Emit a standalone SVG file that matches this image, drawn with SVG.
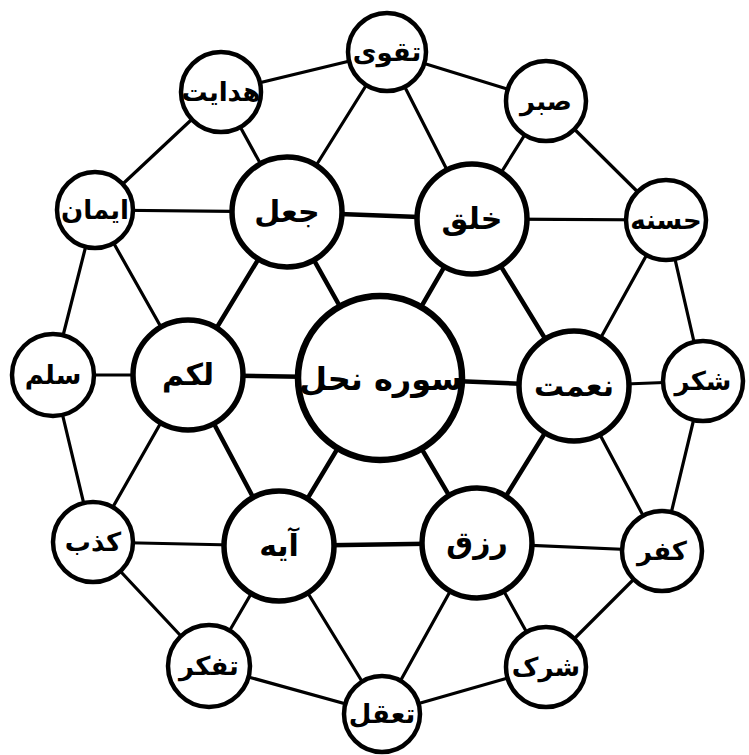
<svg xmlns="http://www.w3.org/2000/svg" width="749" height="755" viewBox="0 0 749 755">
<style>
.bg{fill:#fff}
.e{stroke:#000;stroke-width:3.2;stroke-linecap:round}
.t{stroke:#000;stroke-width:4.5;stroke-linecap:round}
circle{fill:#fff;stroke:#000}
.o circle{stroke-width:4.5}
.i circle{stroke-width:5.5}
.c circle{stroke-width:6.5}
text{font-family:"DejaVu Sans",sans-serif;font-weight:bold;text-anchor:middle;fill:#000}
.o text{font-size:26px}
.i text{font-size:30px}
.c text{font-size:32px}
</style>
<rect class="bg" width="749" height="755"/>
<g id="connectors">
<g class="e">
<line x1="387" y1="52" x2="546" y2="101"/>
<line x1="546" y1="101" x2="666" y2="220"/>
<line x1="666" y1="220" x2="703" y2="381"/>
<line x1="703" y1="381" x2="662" y2="551"/>
<line x1="662" y1="551" x2="546" y2="667"/>
<line x1="546" y1="667" x2="382" y2="714"/>
<line x1="382" y1="714" x2="209" y2="666"/>
<line x1="209" y1="666" x2="93" y2="542"/>
<line x1="93" y1="542" x2="53" y2="375"/>
<line x1="53" y1="375" x2="95" y2="210"/>
<line x1="95" y1="210" x2="221" y2="92"/>
<line x1="221" y1="92" x2="387" y2="52"/>
<line x1="387" y1="52" x2="287" y2="212"/>
<line x1="387" y1="52" x2="472" y2="219"/>
<line x1="221" y1="92" x2="287" y2="212"/>
<line x1="546" y1="101" x2="472" y2="219"/>
<line x1="472" y1="219" x2="666" y2="220"/>
<line x1="666" y1="220" x2="574" y2="386"/>
<line x1="574" y1="386" x2="703" y2="381"/>
<line x1="574" y1="386" x2="662" y2="551"/>
<line x1="477" y1="543" x2="662" y2="551"/>
<line x1="477" y1="543" x2="546" y2="667"/>
<line x1="477" y1="543" x2="382" y2="714"/>
<line x1="279" y1="546" x2="382" y2="714"/>
<line x1="279" y1="546" x2="209" y2="666"/>
<line x1="279" y1="546" x2="93" y2="542"/>
<line x1="188" y1="375" x2="93" y2="542"/>
<line x1="188" y1="375" x2="53" y2="375"/>
<line x1="188" y1="375" x2="95" y2="210"/>
<line x1="287" y1="212" x2="95" y2="210"/>
</g>
<g class="t">
<line x1="287" y1="212" x2="472" y2="219"/>
<line x1="472" y1="219" x2="574" y2="386"/>
<line x1="574" y1="386" x2="477" y2="543"/>
<line x1="477" y1="543" x2="279" y2="546"/>
<line x1="279" y1="546" x2="188" y2="375"/>
<line x1="188" y1="375" x2="287" y2="212"/>
<line x1="380" y1="378" x2="287" y2="212"/>
<line x1="380" y1="378" x2="472" y2="219"/>
<line x1="380" y1="378" x2="574" y2="386"/>
<line x1="380" y1="378" x2="477" y2="543"/>
<line x1="380" y1="378" x2="279" y2="546"/>
<line x1="380" y1="378" x2="188" y2="375"/>
</g>
</g>
<g id="center" class="c"><circle cx="380" cy="378" r="82"/><text x="381" y="390">سوره نحل</text></g>
<g id="jaal" class="i"><circle cx="287" cy="212" r="55"/><text x="287" y="222">جعل</text></g>
<g id="khalq" class="i"><circle cx="472" cy="219" r="55"/><text x="472" y="229">خلق</text></g>
<g id="nemat" class="i"><circle cx="574" cy="386" r="55"/><text x="574" y="396">نعمت</text></g>
<g id="rezq" class="i"><circle cx="477" cy="543" r="55"/><text x="477" y="553">رزق</text></g>
<g id="aye" class="i"><circle cx="279" cy="546" r="55"/><text x="279" y="556">آیه</text></g>
<g id="lakom" class="i"><circle cx="188" cy="375" r="55"/><text x="188" y="385">لکم</text></g>
<g id="taqwa" class="o"><circle cx="387" cy="52" r="39"/><text x="387" y="61">تقوی</text></g>
<g id="sabr" class="o"><circle cx="546" cy="101" r="40"/><text x="546" y="110">صبر</text></g>
<g id="hasane" class="o"><circle cx="666" cy="220" r="40"/><text x="666" y="229">حسنه</text></g>
<g id="shokr" class="o"><circle cx="703" cy="381" r="40"/><text x="703" y="390">شکر</text></g>
<g id="kofr" class="o"><circle cx="662" cy="551" r="40"/><text x="662" y="560">کفر</text></g>
<g id="sherk" class="o"><circle cx="546" cy="667" r="40"/><text x="546" y="676">شرک</text></g>
<g id="taaqol" class="o"><circle cx="382" cy="714" r="38"/><text x="382" y="723">تعقل</text></g>
<g id="tafakkor" class="o"><circle cx="209" cy="666" r="41"/><text x="209" y="675">تفکر</text></g>
<g id="kezb" class="o"><circle cx="93" cy="542" r="40"/><text x="93" y="551">کذب</text></g>
<g id="salam" class="o"><circle cx="53" cy="375" r="41"/><text x="53" y="384">سلم</text></g>
<g id="iman" class="o"><circle cx="95" cy="210" r="38"/><text x="95" y="219">ایمان</text></g>
<g id="hedayat" class="o"><circle cx="221" cy="92" r="40"/><text x="221" y="101">هدایت</text></g>
</svg>
